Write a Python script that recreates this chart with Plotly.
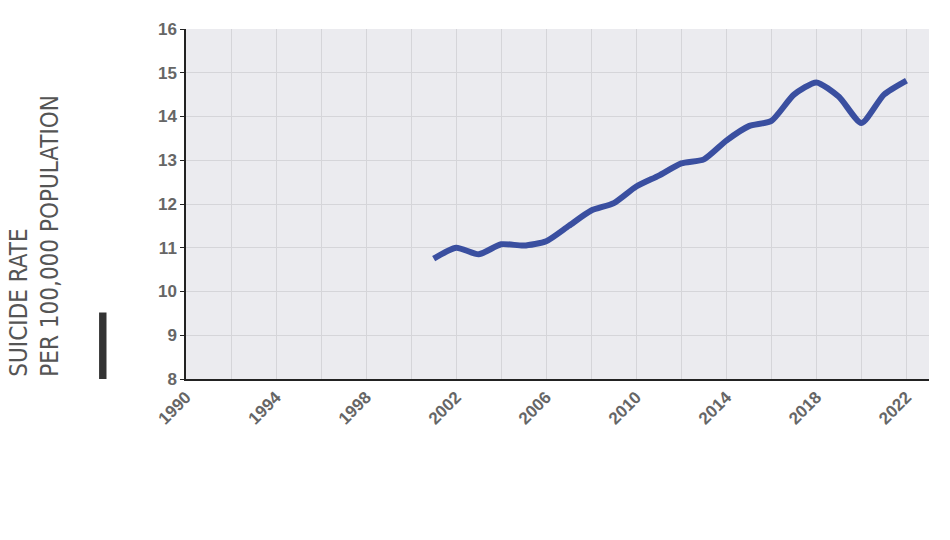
import plotly.graph_objects as go

years = list(range(2001, 2023))
rates = [10.75, 11.0, 10.85, 11.08, 11.05, 11.15, 11.5, 11.85, 12.02, 12.4, 12.65,
         12.93, 13.02, 13.45, 13.78, 13.9, 14.5, 14.78, 14.45, 13.85, 14.5, 14.82]
x_ticks = [1990, 1994, 1998, 2002, 2006, 2010, 2014, 2018, 2022]

fig = go.Figure(go.Scatter(x=years, y=rates, mode="lines",
                           line=dict(color="#3a4fa0", width=6, shape="spline", smoothing=0.6),
                           hoverinfo="skip"))
fig.update_layout(
    width=950, height=540, paper_bgcolor="white", plot_bgcolor="#ebebef",
    margin=dict(l=178, r=29, t=14, b=169), showlegend=False,
    font=dict(family="Liberation Sans", color="#666666"),
    xaxis=dict(range=[1990, 2023], tickvals=x_ticks, tickangle=-45,
               tickfont=dict(size=17, color="#666666", family="Liberation Sans", weight="bold"),
               showgrid=True, gridcolor="#d5d5d9",
               showline=True, linecolor="#222222", linewidth=1.5, zeroline=False,
               minor=dict(dtick=2, tick0=1990, showgrid=True, gridcolor="#d5d5d9")),
    yaxis=dict(range=[8, 16], dtick=1,
               tickfont=dict(size=17, color="#666666", family="Liberation Sans", weight="bold"),
               showgrid=True, gridcolor="#d5d5d9", showline=True, linecolor="#222222",
               linewidth=1.5, zeroline=False, ticks="outside", ticklen=4, tickcolor="#222222"),
    annotations=[dict(xref="paper", yref="paper", x=-0.205, y=0.0, xanchor="center", yanchor="bottom",
                      text="SUICIDE RATE<br>PER 100,000 POPULATION", textangle=-90, showarrow=False,
                      align="left",
                      font=dict(family="DejaVu Sans Condensed", size=24, color="#555555"))],
    shapes=[dict(type="rect", xref="paper", yref="paper", x0=-0.117, x1=-0.107, y0=0.0, y1=0.19,
                 fillcolor="#333333", line=dict(width=0))],
)
fig.write_html("out.html")
